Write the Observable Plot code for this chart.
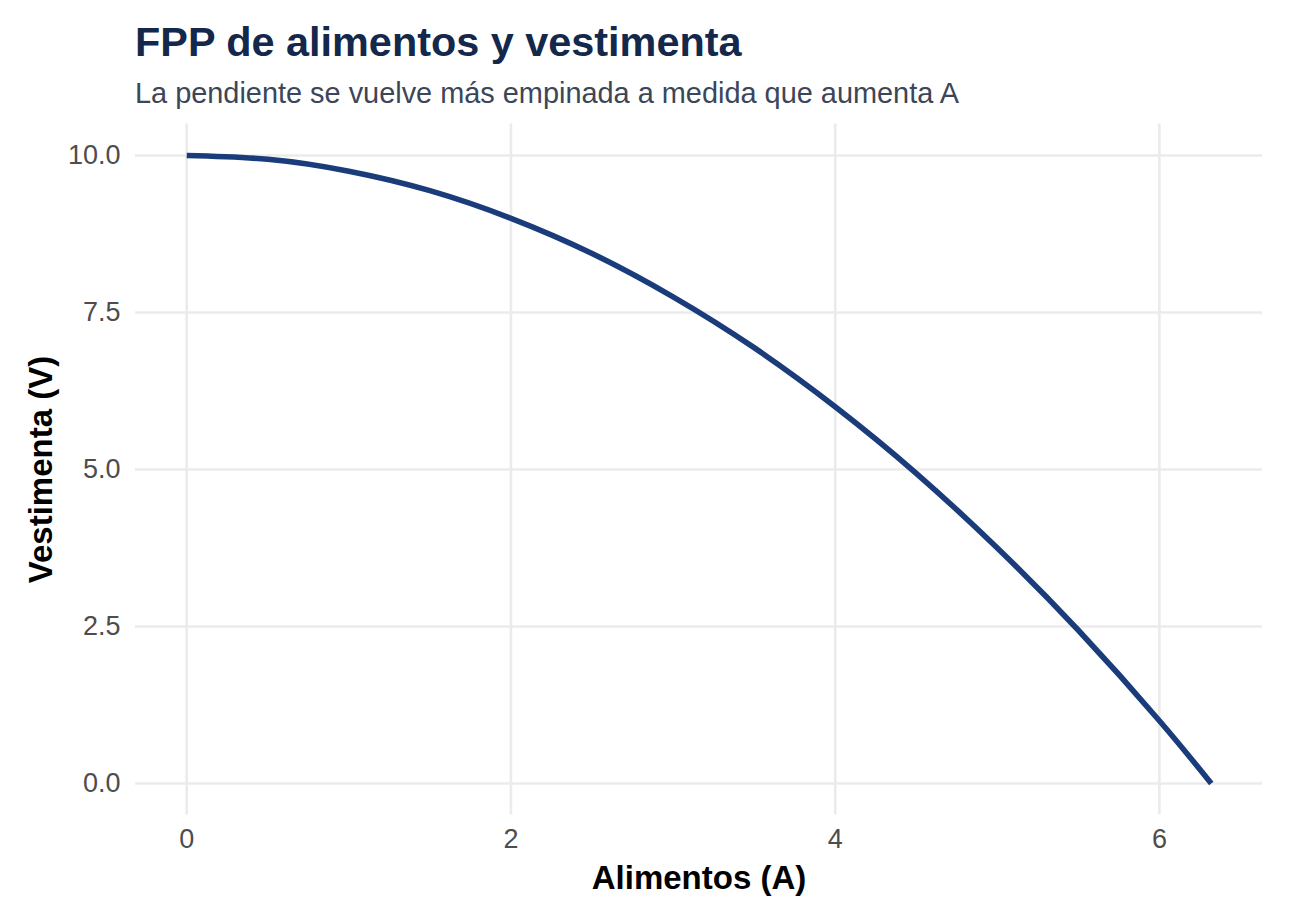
<!DOCTYPE html>
<html>
<head>
<meta charset="utf-8">
<script src="https://cdn.jsdelivr.net/npm/d3@7"></script>
<script src="https://cdn.jsdelivr.net/npm/@observablehq/plot@0.6"></script>
<style>
  html, body { margin: 0; padding: 0; background: #ffffff; }
  body { width: 1305px; height: 921px; position: relative; overflow: hidden; font-family: "Liberation Sans", Arial, sans-serif; }
  #header { position: relative; height: 115px; }
  #title { position: absolute; left: 135px; top: 22px; font-size: 41.4px; line-height: 41px; font-weight: bold; color: #14284b; white-space: nowrap; }
  #subtitle { position: absolute; left: 135px; top: 79px; font-size: 28.9px; line-height: 28px; color: #3b4658; white-space: nowrap; }
  #chart svg { display: block; }
</style>
</head>
<body>
<div id="header">
  <div id="title">FPP de alimentos y vestimenta</div>
  <div id="subtitle">La pendiente se vuelve más empinada a medida que aumenta A</div>
</div>
<div id="chart"></div>
<script>
// Data
const alimentos  = [0, 0.5, 1, 1.5, 2, 2.5, 3, 3.5, 4, 4.5, 5, 5.5, 6, 6.32];
const vestimenta = [10, 9.94, 9.75, 9.44, 9, 8.44, 7.75, 6.94, 6, 4.94, 3.75, 2.44, 1, 0];
const xTicks = [0, 2, 4, 6];
const yTicks = [0, 2.5, 5, 7.5, 10];
const xLabel = "Alimentos (A)";
const yLabel = "Vestimenta (V)";

const data = alimentos.map((a, i) => ({A: a, V: vestimenta[i]}));

const xMin = d3.min(alimentos), xMax = d3.max(alimentos);
const yMin = d3.min(vestimenta), yMax = d3.max(vestimenta);
const xPad = (xMax - xMin) * 0.05, yPad = (yMax - yMin) * 0.05;

const chart = Plot.plot({
  width: 1305,
  height: 806,
  marginTop: 8.6,
  marginBottom: 106.6,
  marginLeft: 135,
  marginRight: 43,
  style: { fontFamily: "'Liberation Sans', Arial, sans-serif", background: "#ffffff" },
  x: { domain: [xMin - xPad, xMax + xPad] },
  y: { domain: [yMin - yPad, yMax + yPad] },
  marks: [
    Plot.gridX(xTicks, { stroke: "#ebebeb", strokeOpacity: 1, strokeWidth: 2.6 }),
    Plot.gridY(yTicks, { stroke: "#ebebeb", strokeOpacity: 1, strokeWidth: 2.6 }),
    Plot.axisX(xTicks, { tickSize: 0, tickPadding: 14, fontSize: 27, fill: "#4d4d4d", label: null, tickFormat: d3.format("d") }),
    Plot.axisY(yTicks, { tickSize: 0, tickPadding: 15, fontSize: 27, fill: "#4d4d4d", label: null, tickFormat: d3.format(".1f") }),
    Plot.line(data, { x: "A", y: "V", stroke: "#1a3c7a", strokeWidth: 5.6, strokeLinecap: "butt", curve: "natural" }),
    Plot.text([xLabel], { text: d => d, frameAnchor: "bottom", lineAnchor: "bottom", dy: 74, fontSize: 33, fontWeight: "bold", fill: "#000000" }),
    Plot.text([yLabel], { text: d => d, frameAnchor: "left", textAnchor: "middle", lineAnchor: "bottom", rotate: -90, dx: -84, fontSize: 33, fontWeight: "bold", fill: "#000000" })
  ]
});
document.getElementById("chart").appendChild(chart);
</script>
</body>
</html>
